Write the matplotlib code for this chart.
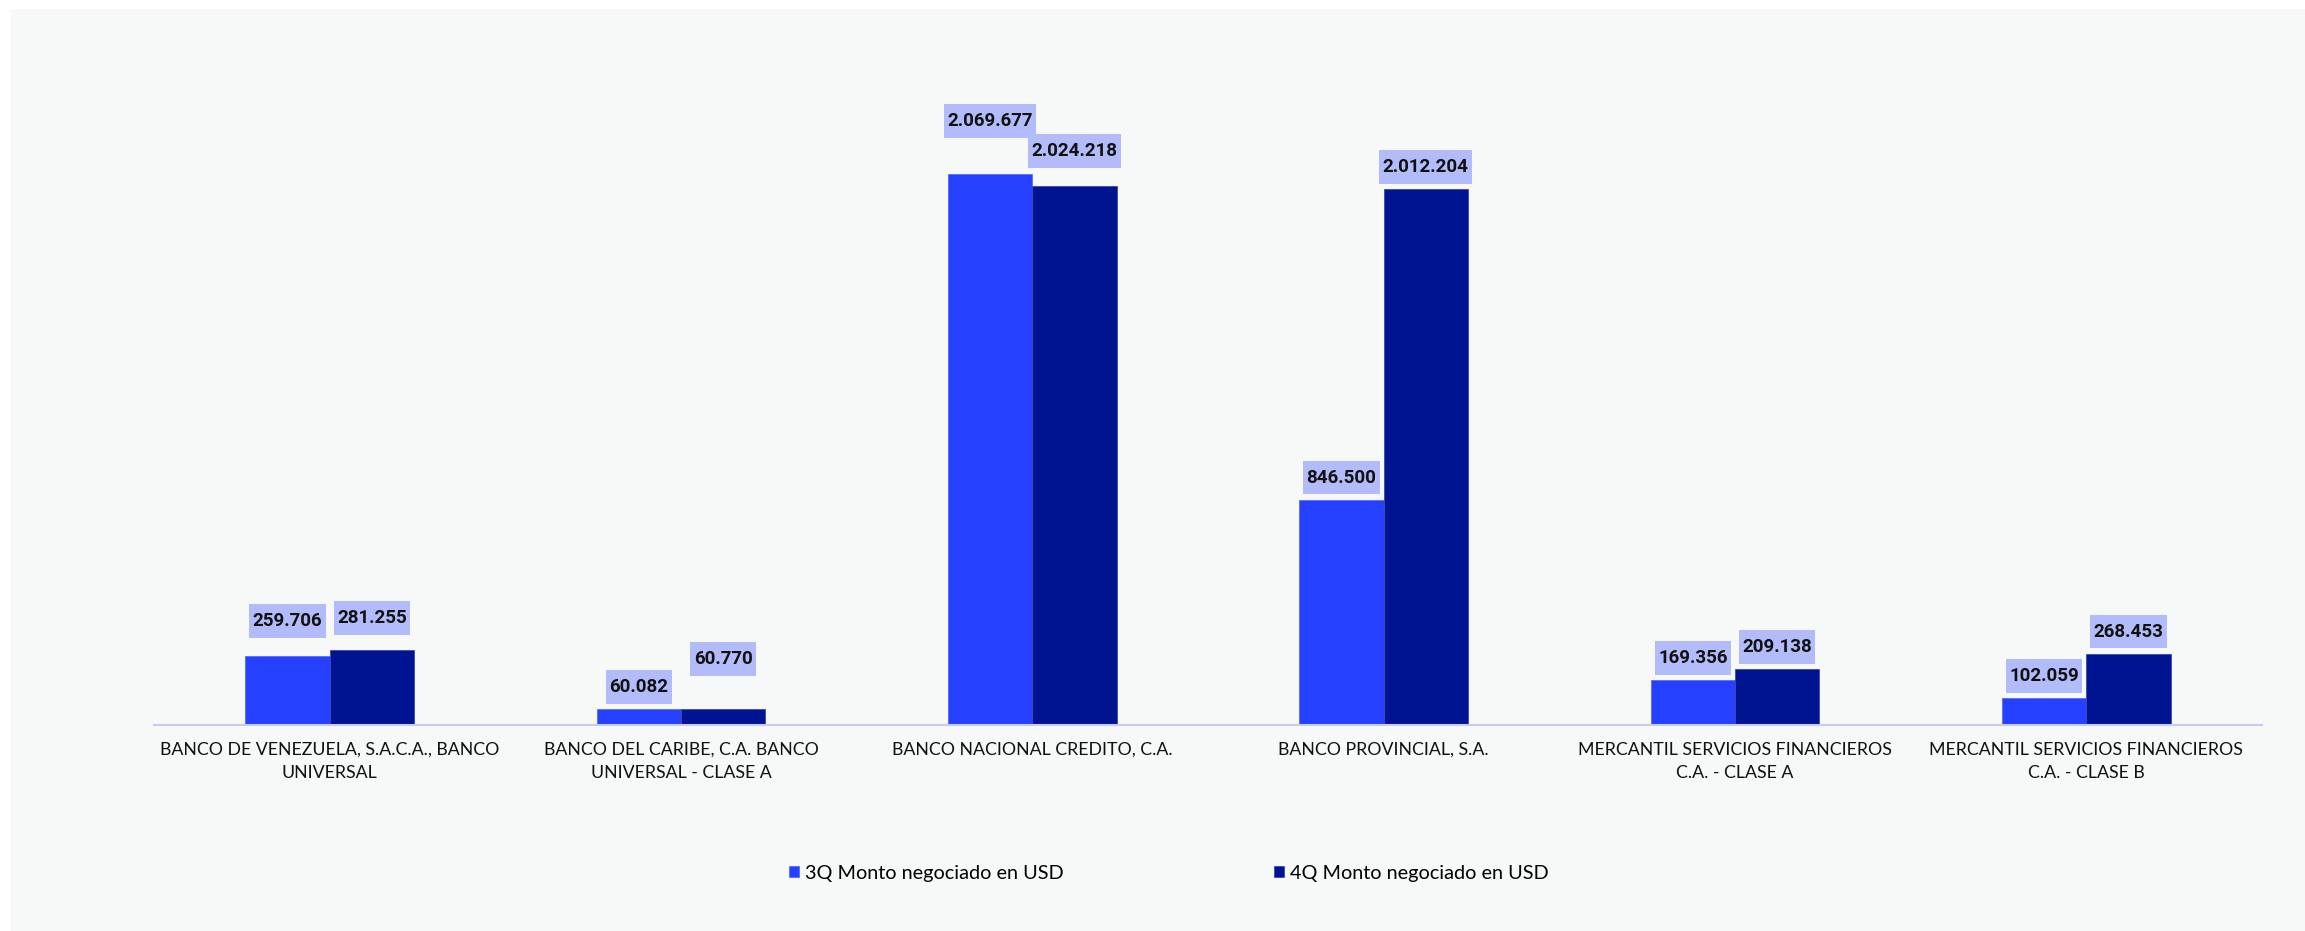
import matplotlib.pyplot as plt
from matplotlib.patches import Rectangle
from matplotlib.path import Path
import numpy as np

# data
bancos = ['BANCO DE VENEZUELA, S.A.C.A., BANCO\nUNIVERSAL',
          'BANCO DEL CARIBE, C.A. BANCO\nUNIVERSAL - CLASE A',
          'BANCO NACIONAL CREDITO, C.A.',
          'BANCO PROVINCIAL, S.A.',
          'MERCANTIL SERVICIOS FINANCIEROS\nC.A. - CLASE A',
          'MERCANTIL SERVICIOS FINANCIEROS\nC.A. - CLASE B']
monto_3q = [259706, 60082, 2069677, 846500, 169356, 102059]
monto_4q = [281255, 60770, 2024218, 2012204, 209138, 268453]
serie_3q = '3Q Monto negociado en USD'
serie_4q = '4Q Monto negociado en USD'

# extra lift of the value labels (pixels) where they were pushed apart
lift_3q = [13, 0, 31, 0, 0, 0]
lift_4q = [10, 28, 13, 0, 0, 0]

c3 = '#2640FF'
c4 = '#001390'
caja = '#B3BCFA'

def fmt(v):
    return f'{v:,}'.replace(',', '.')

# label box: small side padding, taller top/bottom padding
def caja_label(x0, y0, width, height, mutation_size):
    px, py = 0.18 * mutation_size, 0.42 * mutation_size
    return Path([(x0 - px, y0 - py), (x0 + width + px, y0 - py),
                 (x0 + width + px, y0 + height + py), (x0 - px, y0 + height + py),
                 (x0 - px, y0 - py)], closed=True)

fig = plt.figure(figsize=(23.05, 9.31), dpi=100)
fig.patch.set_facecolor('white')
fig.add_artist(Rectangle((11/2305, 0), 1, 1 - 9/931, transform=fig.transFigure,
                         facecolor='#F7F8F8', edgecolor='none', zorder=-5))

ax = fig.add_axes([154/2305, 1 - 725/931, (2262 - 154)/2305, 639/931])
ax.set_facecolor('none')

x = np.arange(len(bancos))
w = 0.24
b3 = ax.bar(x - w/2, monto_3q, w, color=c3, label=serie_3q, edgecolor='#5a6cff', linewidth=0.6)
b4 = ax.bar(x + w/2, monto_4q, w, color=c4, label=serie_4q, edgecolor='#3a49b0', linewidth=0.6)

for bars, vals, lifts in ((b3, monto_3q, lift_3q), (b4, monto_4q, lift_4q)):
    for r, v, l in zip(bars, vals, lifts):
        ax.annotate(fmt(v), (r.get_x() + r.get_width()/2, v),
                    xytext=(0, (13 + l) * 0.72), textcoords='offset points',
                    ha='center', va='bottom', fontsize=13.5, fontweight='bold',
                    family='Roboto', color='#111111',
                    bbox=dict(boxstyle=caja_label, facecolor=caja, edgecolor='none'))

ax.set_xlim(-0.5, len(bancos) - 0.5)
ax.set_ylim(0, 2400000)
ax.set_yticks([])
for s in ['top', 'right', 'left']:
    ax.spines[s].set_visible(False)
ax.spines['bottom'].set_color('#C5CBF5')
ax.spines['bottom'].set_linewidth(1.5)
ax.set_xticks(x)
ax.set_xticklabels(bancos, fontsize=12.8, family='Lato', color='#111111', linespacing=1.6)
ax.tick_params(axis='x', length=0, pad=12)

leg = fig.legend(loc='center', bbox_to_anchor=(1169/2305, 1 - 873/931), ncol=2, frameon=False,
                 prop={'family': 'Lato', 'size': 14.3}, handlelength=0.5, handleheight=0.5,
                 handletextpad=0.3, columnspacing=10.6)

fig.savefig('out.png', dpi=100, facecolor=fig.get_facecolor())
